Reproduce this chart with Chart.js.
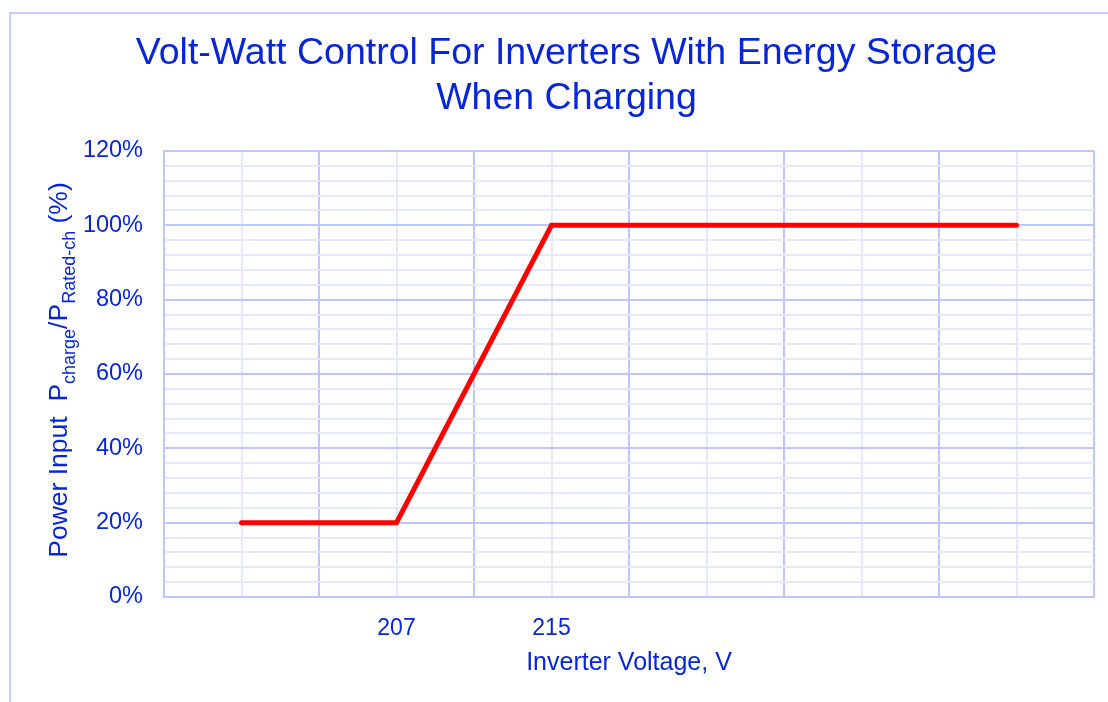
<!DOCTYPE html>
<html>
<head>
<meta charset="utf-8">
<script src="https://cdn.jsdelivr.net/npm/chart.js@4/dist/chart.umd.min.js"></script>
<style>
  html, body { margin: 0; padding: 0; background: #ffffff; overflow: hidden; width: 1108px; height: 702px; }
  #frame { position: absolute; left: 9px; top: 12px; width: 1300px; height: 900px; border: 2px solid #C6CCFF; box-sizing: border-box; }
  #c { position: absolute; left: 0; top: 0; }
</style>
</head>
<body>
<div id="frame"></div>
<canvas id="c" width="1133" height="702"></canvas>
<script>
// ---- data ----
const titleLines = ['Volt-Watt Control For Inverters With Energy Storage', 'When Charging'];
const xAxisTitle = 'Inverter Voltage, V';
const voltages = [199, 207, 215, 239];
const powerPct = [20, 20, 100, 100];
const xLabelTicks = [207, 215];
const yLabelTicks = [0, 20, 40, 60, 80, 100, 120];
const yTitleParts = [
  { t: 'Power Input  P', sub: false },
  { t: 'charge', sub: true },
  { t: '/P', sub: false },
  { t: 'Rated-ch', sub: true },
  { t: ' (%)', sub: false }
];

const TEXT = '#0826D8';
const MAJOR = '#BEC6FF';
const MINOR = '#E5E8FF';
const FONT = "'Liberation Sans', Arial, sans-serif";

const yTitlePlugin = {
  id: 'yTitle',
  afterDraw(chart) {
    const ctx = chart.ctx;
    const mainSize = 26.5, subSize = 18;
    ctx.save();
    ctx.fillStyle = TEXT;
    ctx.textBaseline = 'alphabetic';
    let total = 0;
    const widths = yTitleParts.map(p => {
      ctx.font = (p.sub ? subSize : mainSize) + 'px ' + FONT;
      const w = ctx.measureText(p.t).width;
      total += w;
      return w;
    });
    const cy = (chart.chartArea.top + chart.chartArea.bottom) / 2 - 4;
    ctx.translate(67, cy);
    ctx.rotate(-Math.PI / 2);
    let x = -total / 2;
    yTitleParts.forEach((p, i) => {
      ctx.font = (p.sub ? subSize : mainSize) + 'px ' + FONT;
      ctx.fillText(p.t, x, p.sub ? 8 : 0);
      x += widths[i];
    });
    ctx.restore();
  }
};

const data = {
  datasets: [{
    data: voltages.map((v, i) => ({ x: v, y: powerPct[i] })),
    borderColor: '#FF0000',
    backgroundColor: '#FF0000',
    borderWidth: 5,
    borderCapStyle: 'round',
    borderJoinStyle: 'miter',
    pointRadius: 0,
    showLine: true,
    tension: 0
  }]
};

new Chart(document.getElementById('c'), {
  type: 'scatter',
  data: data,
  plugins: [yTitlePlugin],
  options: {
    responsive: false,
    animation: false,
    layout: { padding: 0 },
    plugins: {
      legend: { display: false },
      tooltip: { enabled: false },
      title: {
        display: true,
        text: titleLines,
        color: TEXT,
        font: { family: FONT, size: 37.5, weight: 'normal', lineHeight: 1.2 },
        padding: { top: 31, bottom: 30 }
      }
    },
    scales: {
      x: {
        type: 'linear',
        min: 195, max: 243,
        afterFit(s) { s.height = 105; },
        ticks: {
          stepSize: 4,
          autoSkip: false,
          maxRotation: 0,
          padding: 18,
          color: TEXT,
          font: { family: FONT, size: 23 },
          callback: v => xLabelTicks.includes(v) ? String(v) : ''
        },
        grid: {
          drawTicks: false,
          lineWidth: 2,
          color: c => ((c.tick.value - 195) % 8 === 0 ? MAJOR : MINOR)
        },
        border: { display: true, color: MAJOR, width: 2 },
        title: {
          display: true,
          text: xAxisTitle,
          color: TEXT,
          font: { family: FONT, size: 25 },
          padding: { top: 0, bottom: 24 }
        }
      },
      y: {
        type: 'linear',
        min: 0, max: 120,
        afterFit(s) { s.width = 164; },
        ticks: {
          stepSize: 4,
          autoSkip: false,
          padding: 21,
          color: TEXT,
          font: { family: FONT, size: 23.5 },
          callback: v => yLabelTicks.includes(v) ? v + '%' : ''
        },
        grid: {
          drawTicks: false,
          lineWidth: 2,
          color: c => (c.tick.value % 20 === 0 ? MAJOR : MINOR)
        },
        border: { display: true, color: MAJOR, width: 2 }
      },
      pad: {
        type: 'linear',
        position: 'right',
        display: true,
        afterFit(s) { s.width = 39; },
        grid: { display: false, drawTicks: false },
        ticks: { display: false },
        border: { display: false }
      }
    }
  }
});
</script>
</body>
</html>
